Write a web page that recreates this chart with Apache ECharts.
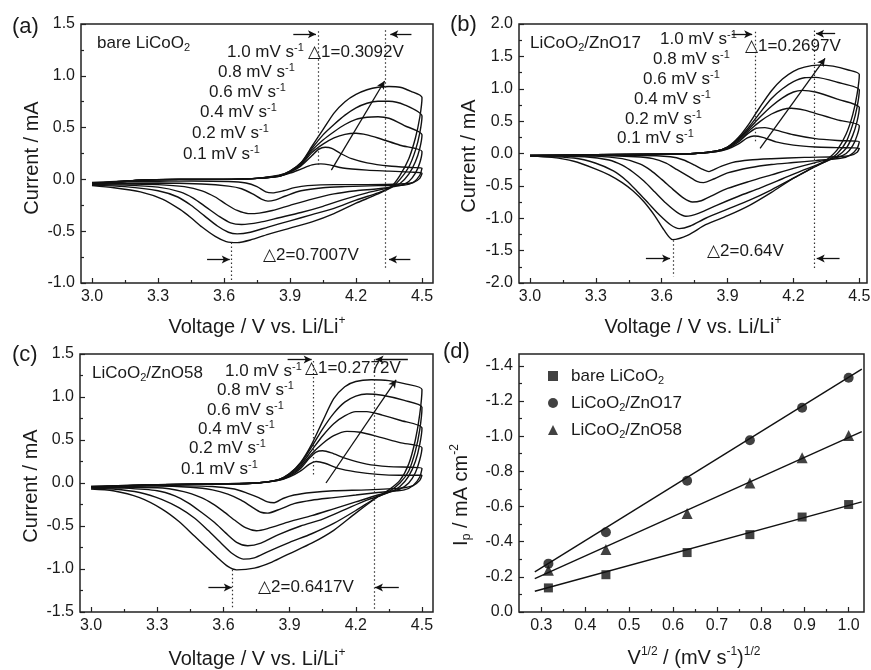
<!DOCTYPE html>
<html><head><meta charset="utf-8">
<script src="https://cdn.jsdelivr.net/npm/echarts@6/dist/echarts.min.js"></script>
<style>html,body{margin:0;padding:0;background:#fff}#c{width:871px;height:670px}</style>
</head><body><div id="c"></div>
<script>
const FONT = "'Liberation Sans', Arial, 'DejaVu Sans', sans-serif";
const scanRates = ['0.1', '0.2', '0.4', '0.6', '0.8', '1.0'];

// ---------- Panel (a): bare LiCoO2 ----------
const aAn01 = [[3.00,-0.03],[3.20,-0.01],[3.40,0.00],[3.60,0.00],[3.75,0.01],[3.85,0.03],[3.90,0.06],[3.95,0.10],[4.00,0.14],[4.04,0.15],[4.08,0.14],[4.14,0.11],[4.25,0.09],[4.35,0.08],[4.45,0.07],[4.50,0.06]];
const aCa01 = [[4.50,0.06],[4.49,0.01],[4.46,-0.03],[4.40,-0.045],[4.25,-0.05],[4.10,-0.05],[3.98,-0.06],[3.92,-0.08],[3.87,-0.11],[3.82,-0.13],[3.79,-0.12],[3.75,-0.07],[3.70,-0.035],[3.62,-0.02],[3.45,-0.015],[3.25,-0.02],[3.10,-0.025],[3.00,-0.03]];
const aAn02 = [[3.00,-0.04],[3.20,-0.01],[3.40,0.00],[3.60,0.00],[3.75,0.01],[3.85,0.03],[3.90,0.07],[3.95,0.13],[4.00,0.23],[4.03,0.29],[4.06,0.31],[4.09,0.30],[4.13,0.25],[4.18,0.20],[4.25,0.16],[4.35,0.13],[4.45,0.115],[4.50,0.11]];
const aCa02 = [[4.50,0.11],[4.49,0.04],[4.46,-0.03],[4.42,-0.055],[4.30,-0.06],[4.15,-0.07],[4.05,-0.08],[3.95,-0.11],[3.88,-0.16],[3.83,-0.20],[3.80,-0.21],[3.77,-0.19],[3.73,-0.14],[3.68,-0.09],[3.62,-0.065],[3.50,-0.045],[3.30,-0.035],[3.10,-0.04],[3.00,-0.04]];
const aAn04 = [[3.00,-0.04],[3.20,-0.01],[3.40,0.00],[3.60,0.00],[3.75,0.01],[3.85,0.03],[3.90,0.07],[3.95,0.14],[4.00,0.26],[4.05,0.34],[4.10,0.40],[4.15,0.435],[4.20,0.445],[4.25,0.43],[4.30,0.40],[4.40,0.33],[4.50,0.27]];
const aCa04 = [[4.50,0.27],[4.49,0.16],[4.47,0.06],[4.44,-0.02],[4.40,-0.06],[4.30,-0.09],[4.20,-0.11],[4.10,-0.14],[4.00,-0.19],[3.90,-0.25],[3.82,-0.30],[3.76,-0.325],[3.71,-0.33],[3.66,-0.30],[3.61,-0.24],[3.56,-0.17],[3.50,-0.11],[3.42,-0.07],[3.30,-0.05],[3.15,-0.045],[3.00,-0.045]];
const aAn06 = [[3.00,-0.05],[3.20,-0.01],[3.40,0.00],[3.60,0.00],[3.75,0.01],[3.85,0.035],[3.90,0.075],[3.95,0.15],[4.00,0.28],[4.05,0.38],[4.10,0.46],[4.15,0.53],[4.20,0.58],[4.25,0.60],[4.30,0.605],[4.35,0.59],[4.42,0.52],[4.50,0.43]];
const aCa06 = [[4.50,0.43],[4.49,0.30],[4.47,0.17],[4.44,0.05],[4.40,-0.04],[4.35,-0.08],[4.25,-0.13],[4.15,-0.19],[4.05,-0.26],[3.95,-0.32],[3.85,-0.37],[3.76,-0.415],[3.68,-0.435],[3.63,-0.42],[3.58,-0.36],[3.52,-0.27],[3.46,-0.18],[3.40,-0.12],[3.30,-0.075],[3.15,-0.055],[3.00,-0.05]];
const aAn08 = [[3.00,-0.05],[3.20,-0.01],[3.40,0.00],[3.60,0.00],[3.75,0.01],[3.85,0.035],[3.90,0.08],[3.95,0.16],[4.00,0.30],[4.05,0.43],[4.10,0.53],[4.15,0.62],[4.20,0.69],[4.25,0.735],[4.30,0.755],[4.35,0.755],[4.42,0.72],[4.50,0.61]];
const aCa08 = [[4.50,0.61],[4.49,0.45],[4.47,0.28],[4.44,0.12],[4.40,0.00],[4.36,-0.08],[4.30,-0.13],[4.20,-0.20],[4.10,-0.28],[4.00,-0.34],[3.90,-0.40],[3.80,-0.46],[3.72,-0.51],[3.66,-0.526],[3.62,-0.51],[3.57,-0.45],[3.51,-0.35],[3.45,-0.25],[3.39,-0.17],[3.30,-0.11],[3.15,-0.07],[3.00,-0.055]];
const aAn10 = [[3.00,-0.06],[3.20,-0.01],[3.40,0.00],[3.60,0.00],[3.75,0.01],[3.85,0.04],[3.90,0.08],[3.95,0.16],[4.00,0.32],[4.05,0.48],[4.10,0.64],[4.15,0.75],[4.20,0.82],[4.25,0.865],[4.30,0.89],[4.35,0.897],[4.40,0.89],[4.45,0.85],[4.50,0.79]];
const aCa10 = [[4.50,0.79],[4.49,0.60],[4.47,0.40],[4.44,0.20],[4.40,0.04],[4.36,-0.07],[4.30,-0.14],[4.20,-0.23],[4.10,-0.33],[4.00,-0.41],[3.90,-0.47],[3.80,-0.53],[3.72,-0.585],[3.66,-0.61],[3.61,-0.60],[3.56,-0.55],[3.50,-0.46],[3.45,-0.37],[3.40,-0.29],[3.32,-0.19],[3.22,-0.12],[3.10,-0.08],[3.00,-0.06]];

// ---------- Panel (b): LiCoO2/ZnO17 ----------
const bAn01 = [[3.00,-0.03],[3.30,-0.02],[3.60,-0.01],[3.75,0.00],[3.85,0.03],[3.90,0.07],[3.95,0.15],[3.99,0.24],[4.02,0.27],[4.06,0.25],[4.12,0.18],[4.20,0.13],[4.30,0.10],[4.40,0.09],[4.50,0.08]];
const bCa01 = [[4.50,0.08],[4.49,0.02],[4.46,-0.03],[4.40,-0.05],[4.25,-0.06],[4.10,-0.08],[4.00,-0.10],[3.92,-0.14],[3.87,-0.20],[3.83,-0.26],[3.815,-0.28],[3.79,-0.25],[3.75,-0.18],[3.70,-0.10],[3.64,-0.05],[3.50,-0.03],[3.20,-0.03],[3.00,-0.03]];
const bAn02 = [[3.00,-0.03],[3.30,-0.02],[3.60,-0.01],[3.75,0.00],[3.85,0.03],[3.90,0.08],[3.95,0.18],[3.99,0.30],[4.03,0.39],[4.07,0.40],[4.12,0.36],[4.20,0.29],[4.30,0.23],[4.40,0.20],[4.50,0.18]];
const bCa02 = [[4.50,0.18],[4.49,0.08],[4.46,-0.02],[4.42,-0.07],[4.30,-0.11],[4.20,-0.14],[4.10,-0.17],[4.00,-0.22],[3.90,-0.30],[3.84,-0.39],[3.79,-0.45],[3.76,-0.43],[3.72,-0.35],[3.67,-0.25],[3.62,-0.15],[3.56,-0.08],[3.48,-0.05],[3.30,-0.03],[3.00,-0.03]];
const bAn04 = [[3.00,-0.03],[3.30,-0.02],[3.60,-0.01],[3.75,0.00],[3.85,0.035],[3.90,0.09],[3.95,0.20],[4.00,0.36],[4.05,0.50],[4.10,0.61],[4.15,0.68],[4.19,0.70],[4.25,0.67],[4.30,0.62],[4.40,0.52],[4.50,0.43]];
const bCa04 = [[4.50,0.43],[4.49,0.28],[4.47,0.12],[4.44,0.00],[4.40,-0.06],[4.30,-0.14],[4.20,-0.23],[4.10,-0.33],[4.00,-0.43],[3.90,-0.54],[3.83,-0.65],[3.78,-0.73],[3.74,-0.75],[3.70,-0.69],[3.65,-0.55],[3.60,-0.40],[3.55,-0.26],[3.50,-0.16],[3.42,-0.08],[3.30,-0.04],[3.00,-0.03]];
const bAn06 = [[3.00,-0.03],[3.30,-0.02],[3.60,-0.01],[3.75,0.00],[3.85,0.04],[3.90,0.10],[3.95,0.22],[4.00,0.39],[4.05,0.57],[4.10,0.73],[4.15,0.86],[4.20,0.95],[4.24,0.975],[4.30,0.95],[4.40,0.84],[4.50,0.71]];
const bCa06 = [[4.50,0.71],[4.49,0.50],[4.47,0.28],[4.44,0.08],[4.40,-0.04],[4.35,-0.12],[4.25,-0.25],[4.15,-0.39],[4.05,-0.53],[3.95,-0.66],[3.85,-0.80],[3.77,-0.92],[3.71,-0.97],[3.67,-0.91],[3.62,-0.77],[3.57,-0.60],[3.52,-0.43],[3.47,-0.29],[3.42,-0.18],[3.36,-0.10],[3.25,-0.05],[3.00,-0.03]];
const bAn08 = [[3.00,-0.03],[3.30,-0.02],[3.60,-0.01],[3.75,0.00],[3.85,0.04],[3.90,0.10],[3.95,0.23],[4.00,0.42],[4.05,0.64],[4.10,0.85],[4.15,1.00],[4.20,1.11],[4.25,1.17],[4.30,1.175],[4.40,1.10],[4.50,0.98]];
const bCa08 = [[4.50,0.98],[4.49,0.72],[4.47,0.45],[4.44,0.18],[4.40,0.00],[4.35,-0.12],[4.30,-0.20],[4.20,-0.38],[4.10,-0.56],[4.00,-0.72],[3.90,-0.86],[3.80,-1.00],[3.73,-1.12],[3.68,-1.16],[3.64,-1.10],[3.59,-0.95],[3.54,-0.77],[3.49,-0.59],[3.44,-0.42],[3.38,-0.27],[3.30,-0.15],[3.20,-0.07],[3.00,-0.04]];
const bAn10 = [[3.00,-0.04],[3.30,-0.02],[3.60,-0.01],[3.75,0.00],[3.85,0.04],[3.90,0.10],[3.95,0.25],[4.00,0.47],[4.05,0.73],[4.10,0.97],[4.15,1.15],[4.20,1.27],[4.25,1.335],[4.31,1.365],[4.38,1.35],[4.45,1.29],[4.50,1.22]];
const bCa10 = [[4.50,1.22],[4.49,0.92],[4.47,0.60],[4.44,0.30],[4.40,0.06],[4.35,-0.10],[4.30,-0.20],[4.20,-0.38],[4.10,-0.60],[4.00,-0.80],[3.90,-0.96],[3.80,-1.10],[3.72,-1.26],[3.65,-1.33],[3.61,-1.18],[3.57,-0.97],[3.52,-0.75],[3.47,-0.58],[3.42,-0.45],[3.36,-0.33],[3.30,-0.24],[3.20,-0.12],[3.10,-0.06],[3.00,-0.04]];

// ---------- Panel (c): LiCoO2/ZnO58 ----------
const cAn01 = [[3.00,-0.04],[3.30,-0.02],[3.60,-0.01],[3.75,0.00],[3.85,0.03],[3.90,0.07],[3.95,0.14],[3.99,0.22],[4.02,0.25],[4.06,0.23],[4.12,0.17],[4.20,0.13],[4.30,0.10],[4.40,0.09],[4.50,0.09]];
const cCa01 = [[4.50,0.09],[4.49,0.03],[4.46,-0.03],[4.40,-0.06],[4.25,-0.08],[4.10,-0.09],[4.00,-0.11],[3.92,-0.14],[3.87,-0.18],[3.83,-0.23],[3.80,-0.22],[3.76,-0.17],[3.71,-0.12],[3.65,-0.07],[3.55,-0.04],[3.30,-0.03],[3.00,-0.04]];
const cAn02 = [[3.00,-0.04],[3.30,-0.02],[3.60,-0.01],[3.75,0.00],[3.85,0.03],[3.90,0.08],[3.95,0.17],[3.99,0.29],[4.02,0.36],[4.05,0.375],[4.09,0.35],[4.15,0.29],[4.25,0.22],[4.35,0.19],[4.50,0.17]];
const cCa02 = [[4.50,0.17],[4.49,0.07],[4.46,-0.03],[4.42,-0.08],[4.30,-0.11],[4.20,-0.14],[4.10,-0.17],[4.00,-0.20],[3.92,-0.24],[3.86,-0.30],[3.80,-0.35],[3.77,-0.34],[3.73,-0.28],[3.68,-0.20],[3.62,-0.13],[3.55,-0.08],[3.45,-0.05],[3.30,-0.035],[3.00,-0.04]];
const cAn04 = [[3.00,-0.05],[3.30,-0.02],[3.60,-0.01],[3.75,0.00],[3.85,0.035],[3.90,0.09],[3.95,0.19],[4.00,0.34],[4.05,0.46],[4.10,0.55],[4.16,0.60],[4.22,0.59],[4.30,0.54],[4.40,0.47],[4.50,0.41]];
const cCa04 = [[4.50,0.41],[4.49,0.27],[4.47,0.12],[4.44,0.00],[4.40,-0.07],[4.30,-0.14],[4.20,-0.22],[4.10,-0.30],[4.00,-0.38],[3.90,-0.45],[3.80,-0.53],[3.75,-0.555],[3.70,-0.52],[3.65,-0.43],[3.60,-0.33],[3.55,-0.24],[3.50,-0.17],[3.42,-0.10],[3.30,-0.055],[3.00,-0.05]];
const cAn06 = [[3.00,-0.05],[3.30,-0.02],[3.60,-0.01],[3.75,0.00],[3.85,0.04],[3.90,0.10],[3.95,0.21],[4.00,0.38],[4.05,0.55],[4.10,0.69],[4.15,0.78],[4.20,0.83],[4.25,0.83],[4.32,0.79],[4.40,0.73],[4.50,0.64]];
const cCa06 = [[4.50,0.64],[4.49,0.45],[4.47,0.25],[4.44,0.08],[4.40,-0.04],[4.35,-0.11],[4.25,-0.20],[4.15,-0.31],[4.05,-0.42],[3.95,-0.50],[3.85,-0.60],[3.77,-0.70],[3.71,-0.73],[3.66,-0.69],[3.61,-0.58],[3.56,-0.46],[3.50,-0.34],[3.44,-0.23],[3.38,-0.15],[3.30,-0.09],[3.15,-0.06],[3.00,-0.05]];
const cAn08 = [[3.00,-0.06],[3.30,-0.02],[3.60,-0.01],[3.75,0.00],[3.85,0.04],[3.90,0.11],[3.95,0.23],[4.00,0.42],[4.05,0.63],[4.10,0.81],[4.15,0.94],[4.20,1.01],[4.25,1.035],[4.32,1.02],[4.42,0.96],[4.50,0.88]];
const cCa08 = [[4.50,0.88],[4.49,0.62],[4.47,0.37],[4.44,0.14],[4.40,0.00],[4.35,-0.10],[4.30,-0.16],[4.20,-0.32],[4.10,-0.47],[4.00,-0.59],[3.90,-0.69],[3.80,-0.80],[3.74,-0.87],[3.69,-0.885],[3.64,-0.82],[3.59,-0.70],[3.53,-0.55],[3.47,-0.41],[3.40,-0.29],[3.32,-0.19],[3.22,-0.11],[3.10,-0.07],[3.00,-0.06]];
const cAn10 = [[3.00,-0.07],[3.30,-0.02],[3.60,-0.01],[3.75,0.00],[3.85,0.04],[3.90,0.11],[3.95,0.24],[4.00,0.45],[4.05,0.72],[4.10,0.98],[4.15,1.12],[4.20,1.18],[4.27,1.20],[4.35,1.19],[4.43,1.15],[4.50,1.087]];
const cCa10 = [[4.50,1.087],[4.49,0.80],[4.47,0.50],[4.44,0.22],[4.40,0.03],[4.35,-0.08],[4.30,-0.16],[4.20,-0.35],[4.10,-0.55],[4.00,-0.70],[3.90,-0.82],[3.82,-0.92],[3.74,-0.99],[3.66,-1.01],[3.62,-0.97],[3.57,-0.86],[3.52,-0.74],[3.47,-0.62],[3.40,-0.45],[3.32,-0.30],[3.22,-0.17],[3.10,-0.09],[3.00,-0.07]];

// ---------- Panel (d): peak current vs sqrt(scan rate) ----------
const dX = [0.316, 0.447, 0.632, 0.775, 0.894, 1.0];
const dBare = [-0.137, -0.212, -0.338, -0.440, -0.540, -0.611];
const dZnO17 = [-0.275, -0.453, -0.746, -0.977, -1.161, -1.332];
const dZnO58 = [-0.237, -0.355, -0.560, -0.734, -0.877, -1.004];
const fitX = [0.285, 1.03];
const fitBare = [-0.118, -0.626];
const fitZnO17 = [-0.228, -1.381];
const fitZnO58 = [-0.190, -1.025];
const dNames = ['bare LiCoO2', 'LiCoO2/ZnO17', 'LiCoO2/ZnO58'];

// ---------- ticks ----------
const cvXTicks = [3.0, 3.3, 3.6, 3.9, 4.2, 4.5];
const cvXMinor = [3.15, 3.45, 3.75, 4.05, 4.35];
const aYTicks = [-1.0, -0.5, 0, 0.5, 1.0, 1.5];
const aYMinor = [-0.75, -0.25, 0.25, 0.75, 1.25];
const bYTicks = [-2.0, -1.5, -1.0, -0.5, 0, 0.5, 1.0, 1.5, 2.0];
const bYMinor = [-1.75, -1.25, -0.75, -0.25, 0.25, 0.75, 1.25, 1.75];
const cYTicks = [-1.5, -1.0, -0.5, 0, 0.5, 1.0, 1.5];
const cYMinor = [-1.25, -0.75, -0.25, 0.25, 0.75, 1.25];
const dXTicks = [0.3, 0.4, 0.5, 0.6, 0.7, 0.8, 0.9, 1.0];
const dXMinor = [0.35, 0.45, 0.55, 0.65, 0.75, 0.85, 0.95];
const dYTicks = [0, -0.2, -0.4, -0.6, -0.8, -1.0, -1.2, -1.4];
const dYMinor = [-0.1, -0.3, -0.5, -0.7, -0.9, -1.1, -1.3];

// ---------- annotation guides (data coordinates) ----------
const dottedA = [[[4.027,1.43],[4.027,0.12]], [[4.335,1.44],[4.335,-0.87]], [[3.634,-0.61],[3.634,-0.99]]];
const arrowsA = [[[3.915,1.40],[4.018,1.40]], [[4.452,1.40],[4.356,1.40]], [[3.523,-0.774],[3.626,-0.774]], [[4.447,-0.774],[4.35,-0.774]], [[4.088,0.09],[4.33,0.95]]];
const dottedB = [[[4.024,1.88],[4.024,0.15]], [[4.294,1.90],[4.294,-1.80]], [[3.654,-1.34],[3.654,-1.90]]];
const arrowsB = [[[3.919,1.84],[4.012,1.84]], [[4.39,1.85],[4.303,1.85]], [[3.528,-1.62],[3.638,-1.62]], [[4.41,-1.62],[4.306,-1.62]], [[4.048,0.08],[4.344,1.47]]];
const dottedC = [[[4.007,1.42],[4.007,0.08]], [[4.282,1.44],[4.282,-1.49]], [[3.641,-1.01],[3.641,-1.47]]];
const arrowsC = [[[3.891,1.436],[4.0,1.436]], [[4.436,1.436],[4.29,1.436]], [[3.532,-1.215],[3.638,-1.215]], [[4.395,-1.215],[4.287,-1.215]], [[4.065,0.0],[4.383,1.2]]];

// ================= build =================
const INK = '#1a1a1a';
const grids = [
  {left: 81, top: 24, width: 352, height: 259},
  {left: 519, top: 24, width: 348, height: 259},
  {left: 80, top: 354, width: 353, height: 258},
  {left: 519, top: 354, width: 345, height: 258}
].map(g => Object.assign({show: true, borderColor: '#222', borderWidth: 1.5, backgroundColor: 'transparent', containLabel: false, outerBoundsMode: 'none'}, g));

const fmt = v => (+v).toFixed(1);
function axisPair(dim, g, min, max, major, minor, inverse) {
  const base = {type: 'value', gridIndex: g, min, max, inverse: !!inverse, splitLine: {show: false}, axisLine: {show: false, onZero: false}, position: dim === 'x' ? 'bottom' : 'left'};
  return [
    Object.assign({}, base, {
      axisTick: {show: true, inside: true, length: 5, customValues: major, lineStyle: {color: '#222', width: 1.2}},
      axisLabel: {show: true, customValues: major, formatter: fmt, color: INK, fontSize: 16, fontFamily: FONT, margin: 6}
    }),
    Object.assign({}, base, {
      axisTick: {show: true, inside: true, length: 3, customValues: minor, lineStyle: {color: '#222', width: 1.2}},
      axisLabel: {show: false}
    })
  ];
}
const xAxis = [].concat(
  axisPair('x', 0, 2.95, 4.55, cvXTicks, cvXMinor),
  axisPair('x', 1, 2.95, 4.535, cvXTicks, cvXMinor),
  axisPair('x', 2, 2.95, 4.55, cvXTicks, cvXMinor),
  axisPair('x', 3, 0.249, 1.035, dXTicks, dXMinor)
);
const yAxis = [].concat(
  axisPair('y', 0, -1.0, 1.5, aYTicks, aYMinor),
  axisPair('y', 1, -2.0, 2.0, bYTicks, bYMinor),
  axisPair('y', 2, -1.5, 1.5, cYTicks, cYMinor),
  axisPair('y', 3, -1.467, 0, dYTicks, dYMinor, true)
);

const panelsCV = [
  {an: [aAn01, aAn02, aAn04, aAn06, aAn08, aAn10], ca: [aCa01, aCa02, aCa04, aCa06, aCa08, aCa10], dotted: dottedA, arrows: arrowsA},
  {an: [bAn01, bAn02, bAn04, bAn06, bAn08, bAn10], ca: [bCa01, bCa02, bCa04, bCa06, bCa08, bCa10], dotted: dottedB, arrows: arrowsB},
  {an: [cAn01, cAn02, cAn04, cAn06, cAn08, cAn10], ca: [cCa01, cCa02, cCa04, cCa06, cCa08, cCa10], dotted: dottedC, arrows: arrowsC}
];

const series = [];
panelsCV.forEach((p, g) => {
  scanRates.forEach((r, k) => {
    const s = {
      type: 'line', name: 'cv' + g + '_' + r, xAxisIndex: 2 * g, yAxisIndex: 2 * g,
      data: p.an[k].concat(p.ca[k].slice(1)),
      showSymbol: false, symbol: 'none', smooth: 0.25, silent: true,
      lineStyle: {color: '#111', width: 1.4}, z: 3
    };
    if (k === 0) {
      const ml = [];
      p.dotted.forEach(seg => ml.push([
        {coord: seg[0], symbol: 'none', lineStyle: {type: [1.5, 2.5], color: '#333', width: 1.2}},
        {coord: seg[1], symbol: 'none', lineStyle: {type: [1.5, 2.5], color: '#333', width: 1.2}}
      ]));
      p.arrows.forEach(seg => ml.push([
        {coord: seg[0], symbol: 'none', lineStyle: {type: 'solid', color: '#111', width: 1.3}},
        {coord: seg[1], symbol: 'arrow', symbolSize: [6, 8], lineStyle: {type: 'solid', color: '#111', width: 1.3}}
      ]));
      s.markLine = {silent: true, animation: false, symbol: ['none', 'none'], label: {show: false}, emphasis: {disabled: true}, data: ml};
    }
    series.push(s);
  });
});

// panel (d)
const fits = [fitBare, fitZnO17, fitZnO58];
fits.forEach((f, i) => series.push({
  type: 'line', name: 'fit' + i, xAxisIndex: 6, yAxisIndex: 6, silent: true,
  data: fitX.map((x, j) => [x, f[j]]), showSymbol: false, symbol: 'none',
  lineStyle: {color: '#111', width: 1.4}, z: 2
}));
const pts = [dBare, dZnO17, dZnO58];
const syms = ['rect', 'circle', 'triangle'];
const sizes = [9, 10, 11];
pts.forEach((arr, i) => series.push({
  type: 'scatter', name: dNames[i], xAxisIndex: 6, yAxisIndex: 6, silent: true,
  data: dX.map((x, j) => [x, arr[j]]), symbol: syms[i], symbolSize: sizes[i],
  itemStyle: {color: '#111'}, z: 4
}));

// ---------- text ----------
const richBase = (size) => ({
  sup: {fontSize: Math.round(size * 0.62), fontFamily: FONT, fill: INK, color: INK, verticalAlign: 'top', lineHeight: Math.round(size * 0.62)},
  sub: {fontSize: Math.round(size * 0.62), fontFamily: FONT, fill: INK, color: INK, verticalAlign: 'bottom', lineHeight: Math.round(size * 0.62)}
});
function T(x, y, text, size, extra) {
  return Object.assign({
    type: 'text', x, y, silent: true, z: 10,
    style: {text, fontSize: size, fontFamily: FONT, fill: INK, align: 'left', verticalAlign: 'middle', lineHeight: Math.round(size * 1.2), rich: richBase(size)}
  }, extra || {});
}
function TC(x, y, text, size, rot) {
  const t = T(x, y, text, size, rot ? {rotation: rot} : {});
  t.style.align = 'center';
  return t;
}
const rateLbl = r => r + ' mV s{sup|-1}';
const graphic = [
  T(12, 27, '(a)', 22), T(450, 25, '(b)', 22), T(12, 355, '(c)', 22), T(443, 352, '(d)', 22),
  // panel a
  T(97, 43, 'bare LiCoO{sub|2}', 17),
  T(227, 52, rateLbl('1.0'), 17), T(218, 72, rateLbl('0.8'), 17), T(209, 92, rateLbl('0.6'), 17),
  T(200, 112, rateLbl('0.4'), 17), T(192, 133, rateLbl('0.2'), 17), T(183, 154, rateLbl('0.1'), 17),
  T(308, 52, '\u25B31=0.3092V', 17), T(263, 255, '\u25B32=0.7007V', 17),
  // panel b
  T(530, 43, 'LiCoO{sub|2}/ZnO17', 17),
  T(660, 39, rateLbl('1.0'), 17), T(653, 59, rateLbl('0.8'), 17), T(643, 79, rateLbl('0.6'), 17),
  T(634, 99, rateLbl('0.4'), 17), T(625, 119, rateLbl('0.2'), 17), T(617, 138, rateLbl('0.1'), 17),
  T(745, 46, '\u25B31=0.2697V', 17), T(707, 251, '\u25B32=0.64V', 17),
  // panel c
  T(92, 373, 'LiCoO{sub|2}/ZnO58', 17),
  T(225, 371, rateLbl('1.0'), 17), T(217, 390, rateLbl('0.8'), 17), T(207, 410, rateLbl('0.6'), 17),
  T(198, 429, rateLbl('0.4'), 17), T(189, 448, rateLbl('0.2'), 17), T(181, 469, rateLbl('0.1'), 17),
  T(305, 368, '\u25B31=0.2772V', 17), T(258, 587, '\u25B32=0.6417V', 17),
  // axis titles
  TC(257, 327, 'Voltage / V vs. Li/Li{sup|+}', 20),
  TC(693, 327, 'Voltage / V vs. Li/Li{sup|+}', 20),
  TC(257, 659, 'Voltage / V vs. Li/Li{sup|+}', 20),
  TC(694, 658, 'V{sup|1/2} / (mV s{sup|-1}){sup|1/2}', 20),
  TC(32, 158, 'Current / mA', 20, Math.PI / 2),
  TC(469, 156, 'Current / mA', 20, Math.PI / 2),
  TC(31, 486, 'Current / mA', 20, Math.PI / 2),
  TC(461, 495, 'I{sub|p} / mA cm{sup|-2}', 20, Math.PI / 2)
];

const option = {
  animation: false,
  backgroundColor: '#fff',
  grid: grids,
  xAxis, yAxis, series, graphic,
  legend: {
    show: true, orient: 'vertical', left: 543, top: 361, itemGap: 7,
    itemWidth: 10, itemHeight: 10, selectedMode: false,
    data: [{name: dNames[0], icon: 'rect'}, {name: dNames[1], icon: 'circle'}, {name: dNames[2], icon: 'triangle'}],
    formatter: n => n.replace('O2', 'O{sub|2}'),
    textStyle: {fontSize: 17, fontFamily: FONT, color: INK, lineHeight: 20, padding: [0, 0, 0, 8],
      rich: {sub: {fontSize: 11, fontFamily: FONT, color: INK, verticalAlign: 'bottom', lineHeight: 11}}},
    itemStyle: {color: '#111'}
  }
};
const chart = echarts.init(document.getElementById('c'), null, {renderer: 'canvas', width: 871, height: 670});
chart.setOption(option);
</script></body></html>
